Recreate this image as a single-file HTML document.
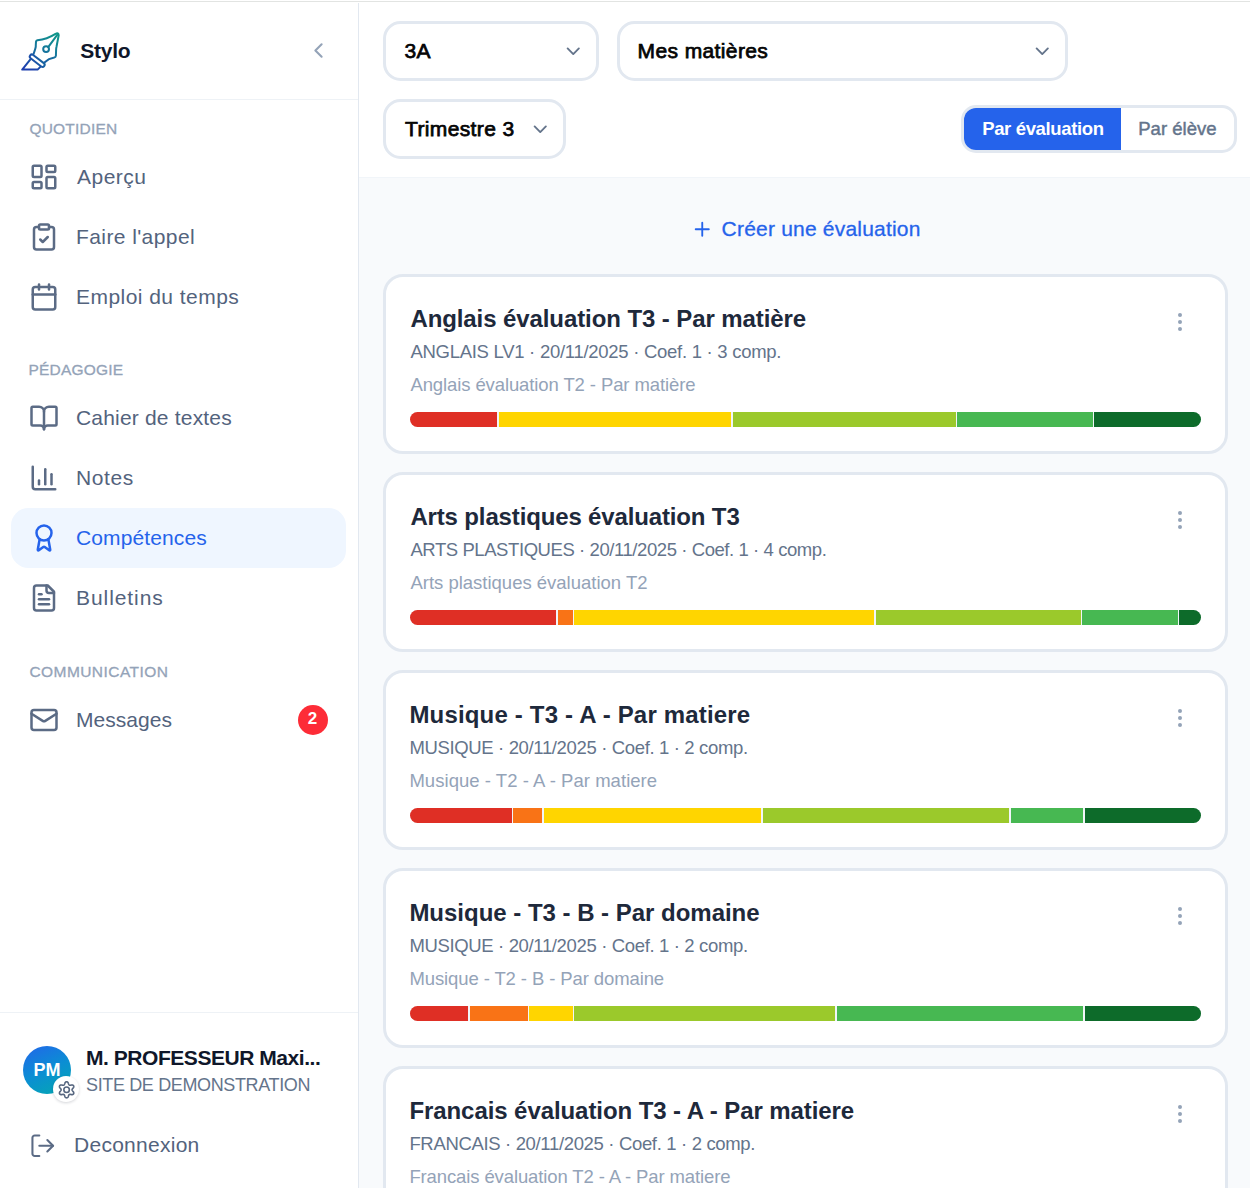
<!DOCTYPE html>
<html><head><meta charset="utf-8"><style>
*{margin:0;padding:0;box-sizing:border-box}
html,body{width:1250px;height:1188px;overflow:hidden;background:#fff;font-family:"Liberation Sans",sans-serif}
.t{position:absolute;white-space:nowrap}
.ic{position:absolute;overflow:visible}
</style></head><body>
<div style="position:absolute;left:0;top:1px;width:1250px;height:1px;background:#e2e4e2"></div>
<div style="position:absolute;left:358px;top:3px;width:1px;height:1185px;background:#e2e8f0"></div>
<div style="position:absolute;left:0;top:99px;width:358px;height:1px;background:#eef2f6"></div>
<div style="position:absolute;left:359px;top:177px;width:891px;height:1px;background:#f1f5f9"></div>
<div style="position:absolute;left:359px;top:178px;width:891px;height:1010px;background:#f8fafc"></div>
<svg class="ic" style="left:0;top:0;width:70px;height:80px" viewBox="0 0 70 80" fill="none" stroke-linecap="round" stroke-linejoin="round">
<defs><linearGradient id="lg" gradientUnits="userSpaceOnUse" x1="50" y1="32" x2="32" y2="71"><stop offset="0" stop-color="#0f958a"/><stop offset="0.45" stop-color="#15749c"/><stop offset="1" stop-color="#1e3fae"/></linearGradient></defs>
<g stroke="url(#lg)" stroke-width="2">
<path d="M33.6 54 L35.4 48.4 Q35.9 46.8 35.8 45 L36 41.6 Q36.2 40.5 37.4 40.2 Q47 39.2 55.5 33.8 Q58.6 32.4 58.7 35.3 L56.5 46.8 Q56.1 48.4 56.1 50 L55.9 55.8 Q55.8 57.3 54.3 57.6 Q48.6 58.6 44.4 62.4"/>
<rect x="28.4" y="58.6" width="17.6" height="4.2" rx="2.1" transform="rotate(37.5 37.2 60.7)"/>
<path d="M30.2 59.6 L22.2 69.6 L37.6 69.6 L40.6 66.6"/>
<circle cx="46.1" cy="49.1" r="2.9"/>
<path d="M48.2 47.1 L57.6 34.3"/>
</g></svg><svg class="ic" style="left:306px;top:38px;width:25px;height:25px" viewBox="0 0 24 24" fill="none" stroke="#94a3b8" stroke-width="2" stroke-linecap="round" stroke-linejoin="round"><path d="m15 18-6-6 6-6"/></svg><div style="position:absolute;left:11px;top:508px;width:335px;height:60px;border-radius:17.5px;background:#eff6ff"></div><svg class="ic" style="left:29px;top:161.8px;width:30px;height:30px" viewBox="0 0 24 24" fill="none" stroke="#5b6b85" stroke-width="2" stroke-linecap="round" stroke-linejoin="round"><rect width="7" height="9" x="3" y="3" rx="1"/><rect width="7" height="5" x="14" y="3" rx="1"/><rect width="7" height="9" x="14" y="12" rx="1"/><rect width="7" height="5" x="3" y="16" rx="1"/></svg><svg class="ic" style="left:29px;top:221.8px;width:30px;height:30px" viewBox="0 0 24 24" fill="none" stroke="#5b6b85" stroke-width="2" stroke-linecap="round" stroke-linejoin="round"><rect width="8" height="4" x="8" y="2" rx="1" ry="1"/><path d="M16 4h2a2 2 0 0 1 2 2v14a2 2 0 0 1-2 2H6a2 2 0 0 1-2-2V6a2 2 0 0 1 2-2h2"/><path d="m9 14 2 2 4-4"/></svg><svg class="ic" style="left:29px;top:281.8px;width:30px;height:30px" viewBox="0 0 24 24" fill="none" stroke="#5b6b85" stroke-width="2" stroke-linecap="round" stroke-linejoin="round"><path d="M8 2v4"/><path d="M16 2v4"/><rect width="18" height="18" x="3" y="4" rx="2"/><path d="M3 10h18"/></svg><svg class="ic" style="left:29px;top:402.8px;width:30px;height:30px" viewBox="0 0 24 24" fill="none" stroke="#5b6b85" stroke-width="2" stroke-linecap="round" stroke-linejoin="round"><path d="M12 7v14"/><path d="M3 18a1 1 0 0 1-1-1V4a1 1 0 0 1 1-1h5a4 4 0 0 1 4 4 4 4 0 0 1 4-4h5a1 1 0 0 1 1 1v13a1 1 0 0 1-1 1h-6a3 3 0 0 0-3 3 3 3 0 0 0-3-3z"/></svg><svg class="ic" style="left:29px;top:462.8px;width:30px;height:30px" viewBox="0 0 24 24" fill="none" stroke="#5b6b85" stroke-width="2" stroke-linecap="round" stroke-linejoin="round"><path d="M3 3v16a2 2 0 0 0 2 2h16"/><path d="M18 17V9"/><path d="M13 17V5"/><path d="M8 17v-3"/></svg><svg class="ic" style="left:29px;top:522.8px;width:30px;height:30px" viewBox="0 0 24 24" fill="none" stroke="#2563eb" stroke-width="2" stroke-linecap="round" stroke-linejoin="round"><path d="m15.477 12.89 1.515 8.526a.5.5 0 0 1-.81.47l-3.58-2.687a1 1 0 0 0-1.197 0l-3.586 2.686a.5.5 0 0 1-.81-.469l1.514-8.526"/><circle cx="12" cy="8" r="6"/></svg><svg class="ic" style="left:29px;top:582.8px;width:30px;height:30px" viewBox="0 0 24 24" fill="none" stroke="#5b6b85" stroke-width="2" stroke-linecap="round" stroke-linejoin="round"><path d="M15 2H6a2 2 0 0 0-2 2v16a2 2 0 0 0 2 2h12a2 2 0 0 0 2-2V7Z"/><path d="M14 2v4a2 2 0 0 0 2 2h4"/><path d="M10 9H8"/><path d="M16 13H8"/><path d="M16 17H8"/></svg><svg class="ic" style="left:29px;top:704.8px;width:30px;height:30px" viewBox="0 0 24 24" fill="none" stroke="#5b6b85" stroke-width="2" stroke-linecap="round" stroke-linejoin="round"><rect width="20" height="16" x="2" y="4" rx="2"/><path d="m22 7-8.97 5.7a1.94 1.94 0 0 1-2.06 0L2 7"/></svg><div style="position:absolute;left:298px;top:705px;width:30px;height:30px;border-radius:50%;background:#fd2c37"></div><div style="position:absolute;left:0;top:1012px;width:358px;height:1px;background:#eef2f6"></div><div style="position:absolute;left:23px;top:1046px;width:48px;height:48px;border-radius:50%;background:linear-gradient(155deg,#2266ea 0%,#0b8ed3 50%,#04a9b0 100%)"></div><div style="position:absolute;left:53px;top:1076.4px;width:26px;height:26px;border-radius:50%;background:#fff;box-shadow:0 1px 3px rgba(15,23,42,.18)"></div><svg class="ic" style="left:0;top:0;width:90px;height:1110px" viewBox="0 0 90 1110" fill="none" stroke="#56667f" stroke-width="1.6" stroke-linejoin="round"><path d="M72.05 1089.80 L72.07 1089.99 L72.13 1090.19 L72.22 1090.39 L72.35 1090.61 L72.51 1090.84 L72.71 1091.10 L72.94 1091.38 L73.29 1091.72 L73.50 1092.04 L73.64 1092.36 L73.73 1092.68 L73.77 1092.99 L73.75 1093.29 L73.69 1093.57 L73.57 1093.83 L73.41 1094.05 L73.20 1094.25 L72.95 1094.41 L72.66 1094.54 L72.34 1094.62 L71.99 1094.66 L71.61 1094.64 L71.14 1094.50 L70.78 1094.44 L70.46 1094.40 L70.18 1094.38 L69.92 1094.37 L69.70 1094.39 L69.50 1094.44 L69.32 1094.52 L69.17 1094.63 L69.03 1094.78 L68.90 1094.96 L68.78 1095.18 L68.65 1095.44 L68.53 1095.74 L68.40 1096.08 L68.28 1096.56 L68.11 1096.90 L67.90 1097.18 L67.67 1097.42 L67.42 1097.60 L67.16 1097.74 L66.88 1097.82 L66.60 1097.85 L66.32 1097.82 L66.04 1097.74 L65.78 1097.60 L65.53 1097.42 L65.30 1097.18 L65.09 1096.90 L64.92 1096.56 L64.80 1096.08 L64.67 1095.74 L64.55 1095.44 L64.42 1095.18 L64.30 1094.96 L64.17 1094.78 L64.03 1094.63 L63.87 1094.52 L63.70 1094.44 L63.50 1094.39 L63.28 1094.37 L63.02 1094.38 L62.74 1094.40 L62.42 1094.44 L62.06 1094.50 L61.59 1094.64 L61.21 1094.66 L60.86 1094.62 L60.54 1094.54 L60.25 1094.41 L60.00 1094.25 L59.79 1094.05 L59.63 1093.83 L59.51 1093.57 L59.45 1093.29 L59.43 1092.99 L59.47 1092.68 L59.56 1092.36 L59.70 1092.04 L59.91 1091.72 L60.26 1091.38 L60.49 1091.10 L60.69 1090.84 L60.85 1090.61 L60.98 1090.39 L61.07 1090.19 L61.13 1089.99 L61.15 1089.80 L61.13 1089.61 L61.07 1089.41 L60.98 1089.21 L60.85 1088.99 L60.69 1088.76 L60.49 1088.50 L60.26 1088.22 L59.91 1087.88 L59.70 1087.56 L59.56 1087.24 L59.47 1086.92 L59.43 1086.61 L59.45 1086.31 L59.51 1086.03 L59.63 1085.77 L59.79 1085.55 L60.00 1085.35 L60.25 1085.19 L60.54 1085.06 L60.86 1084.98 L61.21 1084.94 L61.59 1084.96 L62.06 1085.10 L62.42 1085.16 L62.74 1085.20 L63.02 1085.22 L63.28 1085.23 L63.50 1085.21 L63.70 1085.16 L63.87 1085.08 L64.03 1084.97 L64.17 1084.82 L64.30 1084.64 L64.42 1084.42 L64.55 1084.16 L64.67 1083.86 L64.80 1083.52 L64.92 1083.04 L65.09 1082.70 L65.30 1082.42 L65.53 1082.18 L65.78 1082.00 L66.04 1081.86 L66.32 1081.78 L66.60 1081.75 L66.88 1081.78 L67.16 1081.86 L67.42 1082.00 L67.67 1082.18 L67.90 1082.42 L68.11 1082.70 L68.28 1083.04 L68.40 1083.52 L68.53 1083.86 L68.65 1084.16 L68.78 1084.42 L68.90 1084.64 L69.03 1084.82 L69.17 1084.97 L69.32 1085.08 L69.50 1085.16 L69.70 1085.21 L69.92 1085.23 L70.18 1085.22 L70.46 1085.20 L70.78 1085.16 L71.14 1085.10 L71.61 1084.96 L71.99 1084.94 L72.34 1084.98 L72.66 1085.06 L72.95 1085.19 L73.20 1085.35 L73.41 1085.55 L73.57 1085.77 L73.69 1086.03 L73.75 1086.31 L73.77 1086.61 L73.73 1086.92 L73.64 1087.24 L73.50 1087.56 L73.29 1087.88 L72.94 1088.22 L72.71 1088.50 L72.51 1088.76 L72.35 1088.99 L72.22 1089.21 L72.13 1089.41 L72.07 1089.61Z"/><circle cx="66.6" cy="1089.8" r="2.75"/></svg><svg class="ic" style="left:28.75px;top:1132px;width:27.5px;height:27.5px" viewBox="0 0 24 24" fill="none" stroke="#5b6b85" stroke-width="1.8" stroke-linecap="round" stroke-linejoin="round"><path d="M9 21H5a2 2 0 0 1-2-2V5a2 2 0 0 1 2-2h4"/><polyline points="16 17 21 12 16 7"/><line x1="21" x2="9" y1="12" y2="12"/></svg><div style="position:absolute;left:383px;top:21px;width:216px;height:60px;border:3px solid #e2e8f0;border-radius:17.5px;background:#fff;box-sizing:border-box"></div><div style="position:absolute;left:617px;top:21px;width:451px;height:60px;border:3px solid #e2e8f0;border-radius:17.5px;background:#fff;box-sizing:border-box"></div><div style="position:absolute;left:383px;top:99px;width:183px;height:60px;border:3px solid #e2e8f0;border-radius:17.5px;background:#fff;box-sizing:border-box"></div><svg class="ic" style="left:562.15px;top:40.05px;width:22.5px;height:22.5px" viewBox="0 0 24 24" fill="none" stroke="#64748b" stroke-width="2" stroke-linecap="round" stroke-linejoin="round"><path d="m6 9 6 6 6-6"/></svg><svg class="ic" style="left:1031.25px;top:40.05px;width:22.5px;height:22.5px" viewBox="0 0 24 24" fill="none" stroke="#64748b" stroke-width="2" stroke-linecap="round" stroke-linejoin="round"><path d="m6 9 6 6 6-6"/></svg><svg class="ic" style="left:529.15px;top:118.05000000000001px;width:22.5px;height:22.5px" viewBox="0 0 24 24" fill="none" stroke="#64748b" stroke-width="2" stroke-linecap="round" stroke-linejoin="round"><path d="m6 9 6 6 6-6"/></svg><div style="position:absolute;left:961px;top:105px;width:276px;height:48px;border:3px solid #e2e8f0;border-radius:15px;background:#fff;box-sizing:border-box"></div><div style="position:absolute;left:964px;top:108px;width:157px;height:42px;border-radius:12px 0 0 12px;background:#2563eb"></div><svg class="ic" style="left:691.05px;top:218.05px;width:22.5px;height:22.5px" viewBox="0 0 24 24" fill="none" stroke="#2563eb" stroke-width="2" stroke-linecap="round" stroke-linejoin="round"><path d="M5 12h14"/><path d="M12 5v14"/></svg><div style="position:absolute;left:383px;top:274px;width:845px;height:180px;border:3px solid #e2e8f0;border-radius:20px;background:#fff;box-sizing:border-box"></div><div style="position:absolute;left:1178px;top:313px;width:4px;height:4px;border-radius:50%;background:#94a3b8"></div><div style="position:absolute;left:1178px;top:320px;width:4px;height:4px;border-radius:50%;background:#94a3b8"></div><div style="position:absolute;left:1178px;top:327px;width:4px;height:4px;border-radius:50%;background:#94a3b8"></div><div style="position:absolute;left:410px;top:412px;width:791px;height:15px;border-radius:7.5px;overflow:hidden;background:#f1f5f9"><div style="position:absolute;left:0px;top:0;width:87px;height:15px;background:#df2f25"></div><div style="position:absolute;left:89px;top:0;width:232px;height:15px;background:#ffd500"></div><div style="position:absolute;left:323px;top:0;width:223px;height:15px;background:#9bc92b"></div><div style="position:absolute;left:547px;top:0;width:136px;height:15px;background:#47b852"></div><div style="position:absolute;left:684px;top:0;width:107px;height:15px;background:#0d6b2a"></div></div><div style="position:absolute;left:383px;top:472px;width:845px;height:180px;border:3px solid #e2e8f0;border-radius:20px;background:#fff;box-sizing:border-box"></div><div style="position:absolute;left:1178px;top:511px;width:4px;height:4px;border-radius:50%;background:#94a3b8"></div><div style="position:absolute;left:1178px;top:518px;width:4px;height:4px;border-radius:50%;background:#94a3b8"></div><div style="position:absolute;left:1178px;top:525px;width:4px;height:4px;border-radius:50%;background:#94a3b8"></div><div style="position:absolute;left:410px;top:610px;width:791px;height:15px;border-radius:7.5px;overflow:hidden;background:#f1f5f9"><div style="position:absolute;left:0px;top:0;width:146px;height:15px;background:#df2f25"></div><div style="position:absolute;left:148px;top:0;width:15px;height:15px;background:#f97316"></div><div style="position:absolute;left:164px;top:0;width:300px;height:15px;background:#ffd500"></div><div style="position:absolute;left:466px;top:0;width:205px;height:15px;background:#9bc92b"></div><div style="position:absolute;left:672px;top:0;width:96px;height:15px;background:#47b852"></div><div style="position:absolute;left:769px;top:0;width:22px;height:15px;background:#0d6b2a"></div></div><div style="position:absolute;left:383px;top:670px;width:845px;height:180px;border:3px solid #e2e8f0;border-radius:20px;background:#fff;box-sizing:border-box"></div><div style="position:absolute;left:1178px;top:709px;width:4px;height:4px;border-radius:50%;background:#94a3b8"></div><div style="position:absolute;left:1178px;top:716px;width:4px;height:4px;border-radius:50%;background:#94a3b8"></div><div style="position:absolute;left:1178px;top:723px;width:4px;height:4px;border-radius:50%;background:#94a3b8"></div><div style="position:absolute;left:410px;top:808px;width:791px;height:15px;border-radius:7.5px;overflow:hidden;background:#f1f5f9"><div style="position:absolute;left:0px;top:0;width:102px;height:15px;background:#df2f25"></div><div style="position:absolute;left:103px;top:0;width:29px;height:15px;background:#f97316"></div><div style="position:absolute;left:134px;top:0;width:217px;height:15px;background:#ffd500"></div><div style="position:absolute;left:353px;top:0;width:246px;height:15px;background:#9bc92b"></div><div style="position:absolute;left:601px;top:0;width:72px;height:15px;background:#47b852"></div><div style="position:absolute;left:675px;top:0;width:116px;height:15px;background:#0d6b2a"></div></div><div style="position:absolute;left:383px;top:868px;width:845px;height:180px;border:3px solid #e2e8f0;border-radius:20px;background:#fff;box-sizing:border-box"></div><div style="position:absolute;left:1178px;top:907px;width:4px;height:4px;border-radius:50%;background:#94a3b8"></div><div style="position:absolute;left:1178px;top:914px;width:4px;height:4px;border-radius:50%;background:#94a3b8"></div><div style="position:absolute;left:1178px;top:921px;width:4px;height:4px;border-radius:50%;background:#94a3b8"></div><div style="position:absolute;left:410px;top:1006px;width:791px;height:15px;border-radius:7.5px;overflow:hidden;background:#f1f5f9"><div style="position:absolute;left:0px;top:0;width:58px;height:15px;background:#df2f25"></div><div style="position:absolute;left:60px;top:0;width:58px;height:15px;background:#f97316"></div><div style="position:absolute;left:119px;top:0;width:44px;height:15px;background:#ffd500"></div><div style="position:absolute;left:164px;top:0;width:261px;height:15px;background:#9bc92b"></div><div style="position:absolute;left:427px;top:0;width:246px;height:15px;background:#47b852"></div><div style="position:absolute;left:675px;top:0;width:116px;height:15px;background:#0d6b2a"></div></div><div style="position:absolute;left:383px;top:1066px;width:845px;height:180px;border:3px solid #e2e8f0;border-radius:20px;background:#fff;box-sizing:border-box"></div><div style="position:absolute;left:1178px;top:1105px;width:4px;height:4px;border-radius:50%;background:#94a3b8"></div><div style="position:absolute;left:1178px;top:1112px;width:4px;height:4px;border-radius:50%;background:#94a3b8"></div><div style="position:absolute;left:1178px;top:1119px;width:4px;height:4px;border-radius:50%;background:#94a3b8"></div>
<div class="t" id="stylo" style="left:80.20px;top:40.00px;font-size:21px;line-height:21px;font-weight:700;color:#0f172a;letter-spacing:-0.225px;">Stylo</div>
<div class="t" id="quot" style="left:29.40px;top:121.00px;font-size:15.5px;line-height:15.5px;font-weight:400;color:#94a3b8;letter-spacing:0.213px;-webkit-text-stroke:0.3px #94a3b8">QUOTIDIEN</div>
<div class="t" id="peda" style="left:28.40px;top:362.00px;font-size:15.5px;line-height:15.5px;font-weight:400;color:#94a3b8;letter-spacing:0.213px;-webkit-text-stroke:0.3px #94a3b8">PÉDAGOGIE</div>
<div class="t" id="comm" style="left:29.40px;top:664.00px;font-size:15.5px;line-height:15.5px;font-weight:400;color:#94a3b8;letter-spacing:0.442px;-webkit-text-stroke:0.3px #94a3b8">COMMUNICATION</div>
<div class="t" id="n_apercu" style="left:77.00px;top:166.00px;font-size:21px;line-height:21px;font-weight:400;color:#53637d;letter-spacing:0.480px;">Aperçu</div>
<div class="t" id="n_appel" style="left:76.00px;top:226.00px;font-size:21px;line-height:21px;font-weight:400;color:#53637d;letter-spacing:0.408px;">Faire l'appel</div>
<div class="t" id="n_edt" style="left:76.00px;top:286.00px;font-size:21px;line-height:21px;font-weight:400;color:#53637d;letter-spacing:0.457px;">Emploi du temps</div>
<div class="t" id="n_cahier" style="left:76.00px;top:407.00px;font-size:21px;line-height:21px;font-weight:400;color:#53637d;letter-spacing:0.187px;">Cahier de textes</div>
<div class="t" id="n_notes" style="left:76.00px;top:467.00px;font-size:21px;line-height:21px;font-weight:400;color:#53637d;letter-spacing:0.575px;">Notes</div>
<div class="t" id="n_comp" style="left:76.00px;top:527.00px;font-size:21px;line-height:21px;font-weight:400;color:#2563eb;letter-spacing:0.110px;">Compétences</div>
<div class="t" id="n_bull" style="left:76.00px;top:587.00px;font-size:21px;line-height:21px;font-weight:400;color:#53637d;letter-spacing:0.925px;">Bulletins</div>
<div class="t" id="n_msg" style="left:76.00px;top:709.00px;font-size:21px;line-height:21px;font-weight:400;color:#53637d;letter-spacing:0.029px;">Messages</div>
<div class="t" id="badge" style="left:307.80px;top:710.00px;font-size:17px;line-height:17px;font-weight:700;color:#fff;letter-spacing:0.000px;">2</div>
<div class="t" id="pm" style="left:33.40px;top:1061.00px;font-size:18px;line-height:18px;font-weight:700;color:#fff;letter-spacing:0.000px;">PM</div>
<div class="t" id="name" style="left:86.00px;top:1047.00px;font-size:21px;line-height:21px;font-weight:700;color:#0f172a;letter-spacing:-0.455px;">M. PROFESSEUR Maxi...</div>
<div class="t" id="site" style="left:86.00px;top:1076.00px;font-size:18px;line-height:18px;font-weight:400;color:#64748b;letter-spacing:-0.360px;">SITE DE DEMONSTRATION</div>
<div class="t" id="deco" style="left:74.00px;top:1134.00px;font-size:21px;line-height:21px;font-weight:400;color:#53637d;letter-spacing:0.270px;">Deconnexion</div>
<div class="t" id="s3a" style="left:404.60px;top:40.00px;font-size:21px;line-height:21px;font-weight:400;color:#050505;letter-spacing:0.300px;-webkit-text-stroke:0.75px #050505">3A</div>
<div class="t" id="smat" style="left:637.60px;top:40.00px;font-size:21px;line-height:21px;font-weight:400;color:#050505;letter-spacing:0.382px;-webkit-text-stroke:0.75px #050505">Mes matières</div>
<div class="t" id="strim" style="left:405.00px;top:118.00px;font-size:21px;line-height:21px;font-weight:400;color:#050505;letter-spacing:0.370px;-webkit-text-stroke:0.75px #050505">Trimestre 3</div>
<div class="t" id="seg1" style="left:982.20px;top:120.00px;font-size:18.5px;line-height:18.5px;font-weight:700;color:#fff;letter-spacing:-0.362px;">Par évaluation</div>
<div class="t" id="seg2" style="left:1138.20px;top:120.00px;font-size:18.5px;line-height:18.5px;font-weight:400;color:#64748b;letter-spacing:0.038px;-webkit-text-stroke:0.45px #64748b">Par élève</div>
<div class="t" id="create" style="left:721.60px;top:218.00px;font-size:21px;line-height:21px;font-weight:400;color:#2563eb;letter-spacing:0.200px;-webkit-text-stroke:0.3px #2563eb">Créer une évaluation</div>
<div class="t" id="c0t" style="left:410.40px;top:307.00px;font-size:24px;line-height:24px;font-weight:700;color:#1e293b;letter-spacing:-0.091px;">Anglais évaluation T3 - Par matière</div>
<div class="t" id="c0s" style="left:410.40px;top:343.00px;font-size:18.5px;line-height:18.5px;font-weight:400;color:#64748b;letter-spacing:-0.274px;">ANGLAIS LV1 · 20/11/2025 · Coef. 1 · 3 comp.</div>
<div class="t" id="c0p" style="left:410.40px;top:376.00px;font-size:18.5px;line-height:18.5px;font-weight:400;color:#94a3b8;letter-spacing:-0.103px;">Anglais évaluation T2 - Par matière</div>
<div class="t" id="c1t" style="left:410.40px;top:505.00px;font-size:24px;line-height:24px;font-weight:700;color:#1e293b;letter-spacing:-0.146px;">Arts plastiques évaluation T3</div>
<div class="t" id="c1s" style="left:410.40px;top:541.00px;font-size:18.5px;line-height:18.5px;font-weight:400;color:#64748b;letter-spacing:-0.423px;">ARTS PLASTIQUES · 20/11/2025 · Coef. 1 · 4 comp.</div>
<div class="t" id="c1p" style="left:410.40px;top:574.00px;font-size:18.5px;line-height:18.5px;font-weight:400;color:#94a3b8;letter-spacing:-0.004px;">Arts plastiques évaluation T2</div>
<div class="t" id="c2t" style="left:409.40px;top:703.00px;font-size:24px;line-height:24px;font-weight:700;color:#1e293b;letter-spacing:0.179px;">Musique - T3 - A - Par matiere</div>
<div class="t" id="c2s" style="left:409.40px;top:739.00px;font-size:18.5px;line-height:18.5px;font-weight:400;color:#64748b;letter-spacing:-0.351px;">MUSIQUE · 20/11/2025 · Coef. 1 · 2 comp.</div>
<div class="t" id="c2p" style="left:409.40px;top:772.00px;font-size:18.5px;line-height:18.5px;font-weight:400;color:#94a3b8;letter-spacing:0.045px;">Musique - T2 - A - Par matiere</div>
<div class="t" id="c3t" style="left:409.40px;top:901.00px;font-size:24px;line-height:24px;font-weight:700;color:#1e293b;letter-spacing:-0.017px;">Musique - T3 - B - Par domaine</div>
<div class="t" id="c3s" style="left:409.40px;top:937.00px;font-size:18.5px;line-height:18.5px;font-weight:400;color:#64748b;letter-spacing:-0.351px;">MUSIQUE · 20/11/2025 · Coef. 1 · 2 comp.</div>
<div class="t" id="c3p" style="left:409.40px;top:970.00px;font-size:18.5px;line-height:18.5px;font-weight:400;color:#94a3b8;letter-spacing:-0.103px;">Musique - T2 - B - Par domaine</div>
<div class="t" id="c4t" style="left:409.40px;top:1099.00px;font-size:24px;line-height:24px;font-weight:700;color:#1e293b;letter-spacing:-0.074px;">Francais évaluation T3 - A - Par matiere</div>
<div class="t" id="c4s" style="left:409.40px;top:1135.00px;font-size:18.5px;line-height:18.5px;font-weight:400;color:#64748b;letter-spacing:-0.337px;">FRANCAIS · 20/11/2025 · Coef. 1 · 2 comp.</div>
<div class="t" id="c4p" style="left:409.40px;top:1168.00px;font-size:18.5px;line-height:18.5px;font-weight:400;color:#94a3b8;letter-spacing:-0.115px;">Francais évaluation T2 - A - Par matiere</div>
</body></html>
